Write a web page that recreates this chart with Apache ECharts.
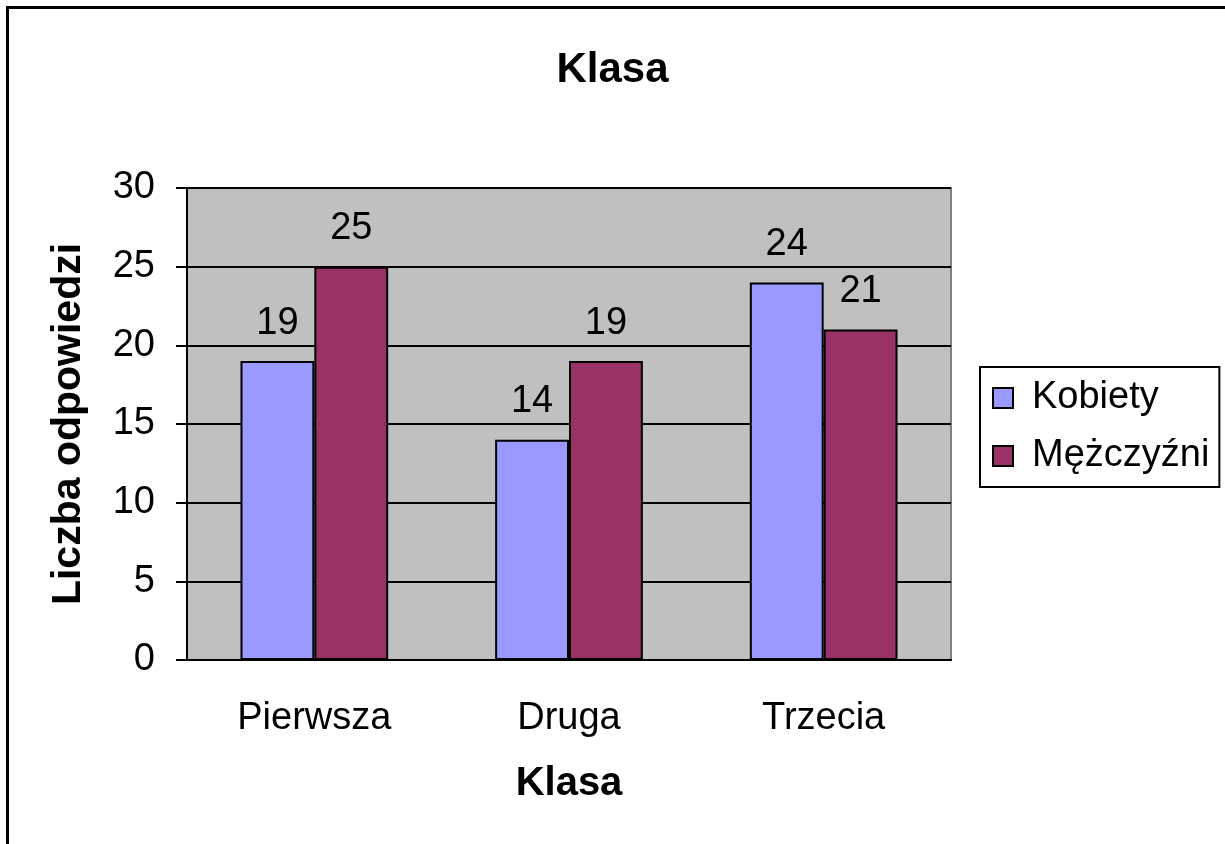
<!DOCTYPE html>
<html>
<head>
<meta charset="utf-8">
<script src="https://cdn.jsdelivr.net/npm/echarts@6/dist/echarts.min.js"></script>
<style>
  html, body { margin: 0; padding: 0; background: #fff; }
  #chart { width: 1225px; height: 844px; }
</style>
</head>
<body>
<div id="chart"></div>
<script>
// dane z wykresu
var klasy = ["Pierwsza", "Druga", "Trzecia"];
var kobiety = [19, 14, 24];
var mezczyzni = [25, 19, 21];

var FONT = "'Liberation Sans', Arial, sans-serif";

var oChart = echarts.init(document.getElementById("chart"));

var labelStyle = {
  show: true,
  position: "top",
  distance: 19,
  color: "#000",
  fontFamily: FONT,
  fontSize: 38,
};

oChart.setOption({
  animation: false,
  backgroundColor: "#fff",
  textStyle: { fontFamily: FONT, color: "#000" },
  title: {
    text: "Klasa",
    left: "center",
    top: 44,
    textStyle: { fontFamily: FONT, fontSize: 42, fontWeight: "bold", color: "#000" },
  },
  legend: {
    orient: "vertical",
    left: 980,
    top: 367,
    data: ["Kobiety", "Mężczyźni"],
    icon: "rect",
    itemWidth: 20,
    itemHeight: 20,
    itemGap: 20,
    padding: [12, 10, 12, 12],
    borderColor: "#000",
    borderWidth: 2,
    textStyle: { fontFamily: FONT, fontSize: 38, color: "#000", padding: [0, 0, 0, 14] },
  },
  grid: {
    left: 187,
    right: 274,
    top: 188,
    bottom: 184,
    show: true,
    backgroundColor: "#c0c0c0",
    borderColor: "#808080",
    borderWidth: 2,
  },
  xAxis: {
    type: "category",
    data: klasy,
    name: "Klasa",
    nameLocation: "middle",
    nameGap: 104,
    nameTextStyle: { fontFamily: FONT, fontSize: 40, fontWeight: "bold", color: "#000" },
    axisLine: { lineStyle: { color: "#000", width: 2 } },
    axisTick: { length: 11, lineStyle: { color: "#000", width: 2 } },
    axisLabel: { margin: 40, fontFamily: FONT, fontSize: 38, color: "#000" },
  },
  yAxis: {
    type: "value",
    min: 0,
    max: 30,
    interval: 5,
    name: "Liczba odpowiedzi",
    nameLocation: "middle",
    nameGap: 98,
    nameTextStyle: { fontFamily: FONT, fontSize: 41, fontWeight: "bold", color: "#000" },
    axisLine: { show: true, lineStyle: { color: "#000", width: 2 } },
    axisTick: { show: true, length: 11, lineStyle: { color: "#000", width: 2 } },
    axisLabel: { margin: 32, fontFamily: FONT, fontSize: 38, color: "#000" },
    splitLine: { lineStyle: { color: "#000", width: 2 } },
  },
  series: [
    {
      name: "Kobiety",
      type: "bar",
      data: kobiety,
      barGap: "0%",
      barCategoryGap: "42%",
      itemStyle: { color: "#9999ff", borderColor: "#000", borderWidth: 2 },
      label: labelStyle,
    },
    {
      name: "Mężczyźni",
      type: "bar",
      data: mezczyzni,
      barGap: "0%",
      barCategoryGap: "42%",
      itemStyle: { color: "#993366", borderColor: "#000", borderWidth: 2 },
      label: labelStyle,
    },
  ],
  graphic: [
    {
      type: "rect",
      shape: { x: 7.5, y: 7.5, width: 1400, height: 1000 },
      style: { fill: "none", stroke: "#000", lineWidth: 3 },
      silent: true,
    },
  ],
});
</script>
</body>
</html>
